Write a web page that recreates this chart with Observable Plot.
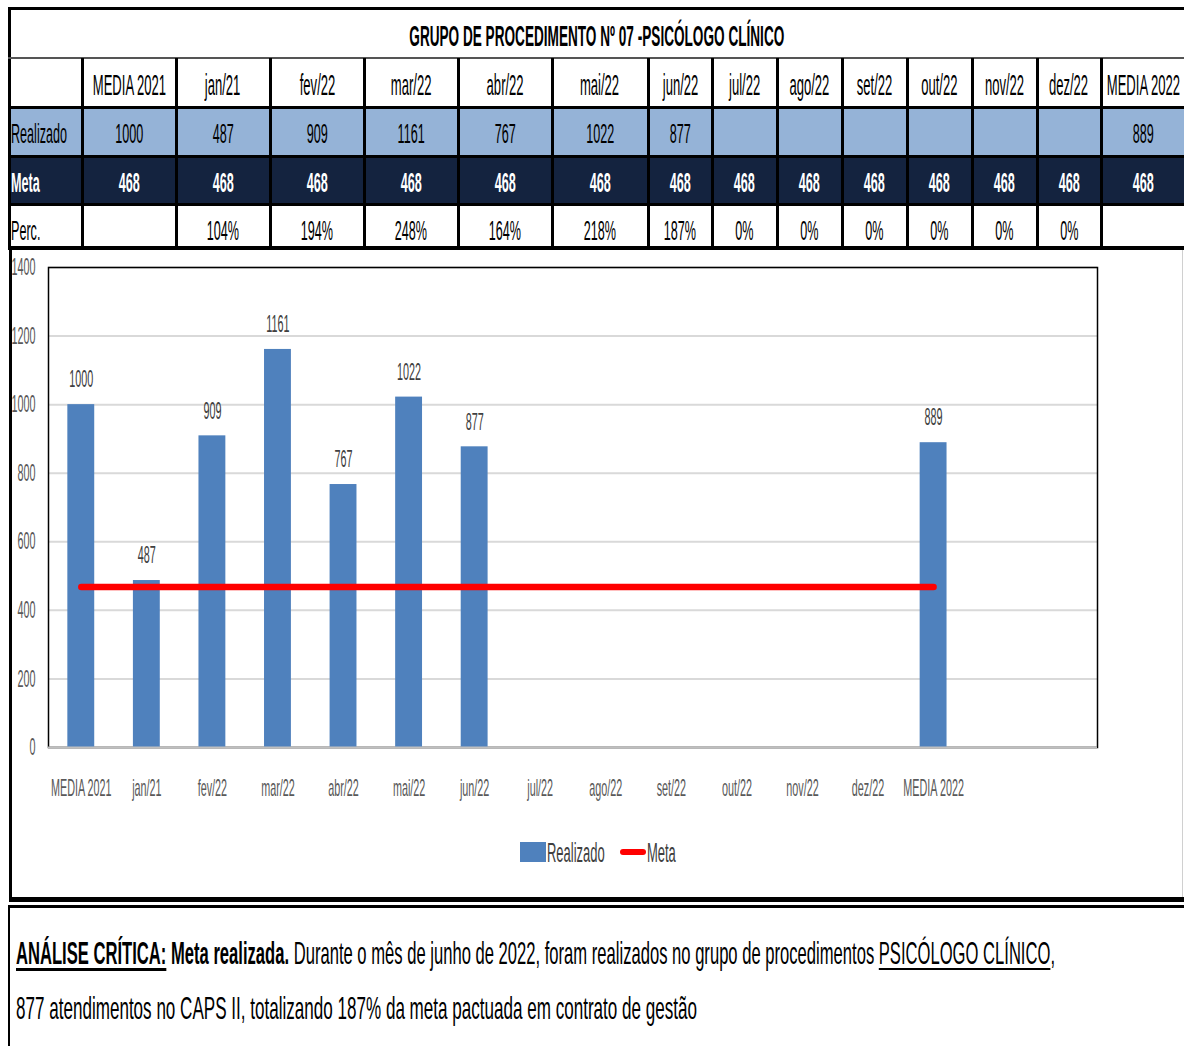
<!DOCTYPE html>
<html>
<head>
<meta charset="utf-8">
<script src="https://cdn.jsdelivr.net/npm/d3@7"></script>
<script src="https://cdn.jsdelivr.net/npm/@observablehq/plot@0.6"></script>
<style>
  html, body { margin:0; padding:0; background:#fff; }
  body { width:1184px; height:1046px; overflow:hidden; position:relative; font-family:"Liberation Sans", Arial, sans-serif; }
  .cell { position:absolute; display:flex; align-items:center; justify-content:center; overflow:visible; box-sizing:border-box; padding-top:4px; }
  .cell.left { justify-content:flex-start; padding-left:3px; }
  .sq { display:inline-block; white-space:nowrap; flex-shrink:0; transform-origin:center; }
  .line { position:absolute; background:#000; }
  #chart { position:absolute; left:0; top:250px; }
</style>
</head>
<body>
<div id="root"></div>
<script>
// ---------- data ----------
const title = "GRUPO DE PROCEDIMENTO Nº 07 -PSICÓLOGO CLÍNICO";
const categories = ["MEDIA 2021","jan/21","fev/22","mar/22","abr/22","mai/22","jun/22","jul/22","ago/22","set/22","out/22","nov/22","dez/22","MEDIA 2022"];
const realizado = [1000, 487, 909, 1161, 767, 1022, 877, null, null, null, null, null, null, 889];
const meta = [468, 468, 468, 468, 468, 468, 468, 468, 468, 468, 468, 468, 468, 468];
const perc = ["", "104%", "194%", "248%", "164%", "218%", "187%", "0%", "0%", "0%", "0%", "0%", "0%", ""];
const rowLabels = ["Realizado", "Meta", "Perc."];
const yTicks = [0, 200, 400, 600, 800, 1000, 1200, 1400];
const legendLabels = ["Realizado", "Meta"];
const blankSlots = ["", " "];

// ---------- layout (style only) ----------
const SX_TABLE = 0.45, SX_CHART = 0.45;
const colEdges = [8, 82, 176, 270, 364, 458, 552, 648, 712, 777, 842, 907, 972, 1037, 1101, 1186];
const rowEdges = [8, 58, 107, 156, 204, 248];
const root = document.getElementById("root");

function addCell(x0, x1, y0, y1, text, opts = {}) {
  const d = document.createElement("div");
  d.className = "cell" + (opts.left ? " left" : "");
  Object.assign(d.style, {
    left: x0 + "px", top: y0 + "px", width: (x1 - x0) + "px", height: (y1 - y0) + "px",
    background: opts.bg || "transparent", color: opts.color || "#000",
    fontSize: (opts.size || 28) + "px", fontWeight: opts.bold ? "bold" : "normal",
    paddingTop: (opts.pt != null ? opts.pt : 4) + "px"
  });
  const s = document.createElement("span");
  s.className = "sq";
  s.textContent = text;
  if (opts.fitW) s.dataset.fitw = opts.fitW;
  else s.dataset.sx = opts.sx || SX_TABLE;
  if (opts.left) s.style.transformOrigin = "left center";
  d.appendChild(s);
  root.appendChild(d);
}
function addLine(x, y, w, h, color) {
  const d = document.createElement("div");
  d.className = "line";
  Object.assign(d.style, { left: x + "px", top: y + "px", width: w + "px", height: h + "px", background: color || "#000" });
  root.appendChild(d);
}

// title row
addCell(8, 1186, rowEdges[0], rowEdges[1], title, { bold: true, size: 29, fitW: 375, pt: 6 });
// header row
categories.forEach((c, i) => addCell(colEdges[i + 1], colEdges[i + 2], rowEdges[1], rowEdges[2], c, { size: 29, pt: 6 }));
// Realizado row
addCell(colEdges[0], colEdges[1], rowEdges[2], rowEdges[3], rowLabels[0], { left: true, bg: "#95b3d7", pt: 5 });
categories.forEach((c, i) => addCell(colEdges[i + 1], colEdges[i + 2], rowEdges[2], rowEdges[3], realizado[i] == null ? "" : String(realizado[i]), { bg: "#95b3d7", pt: 5 }));
// Meta row
addCell(colEdges[0], colEdges[1], rowEdges[3], rowEdges[4], rowLabels[1], { left: true, bg: "#14233f", color: "#fff", bold: true, pt: 5 });
categories.forEach((c, i) => addCell(colEdges[i + 1], colEdges[i + 2], rowEdges[3], rowEdges[4], String(meta[i]), { bg: "#14233f", color: "#fff", bold: true, pt: 5 }));
// Perc row
addCell(colEdges[0], colEdges[1], rowEdges[4], rowEdges[5], rowLabels[2], { left: true, pt: 10 });
categories.forEach((c, i) => addCell(colEdges[i + 1], colEdges[i + 2], rowEdges[4], rowEdges[5], perc[i], { pt: 10 }));

// table lines
addLine(8, 7, 1184, 3);             // top
addLine(8, 7, 3, 242);              // left
addLine(8, 57, 1184, 2, "#555");    // under title
addLine(8, 106, 1184, 3);
addLine(8, 155, 1184, 3);
addLine(8, 203, 1184, 3);
addLine(8, 246, 1184, 4);           // bottom of table
colEdges.slice(1, 15).forEach(x => addLine(x - 1, 58, 3, 190));

// chart box borders
addLine(9, 248, 3, 652);
addLine(9, 897, 1184, 5);
addLine(1182, 250, 1, 647, "#d0d0d0");
// text box borders
addLine(8, 905, 1184, 3);
addLine(8, 905, 2, 141);

// ---------- chart ----------
const rows = categories.map((c, i) => ({ cat: c, realizado: realizado[i], meta: meta[i] }));
const bars = rows.filter(d => d.realizado != null);

const chart = Plot.plot({
  width: 1184, height: 648,
  marginLeft: 48, marginRight: 87, marginTop: 17, marginBottom: 151,
  style: { fontFamily: "Liberation Sans, Arial, sans-serif", fontSize: "24px", background: "transparent", overflow: "visible" },
  x: { domain: [...categories, ...blankSlots], paddingInner: 0.59, paddingOuter: 0.295, round: false },
  y: { domain: [0, 1400] },
  marks: [
    Plot.gridY(yTicks, { stroke: "#d9d9d9", strokeOpacity: 1, strokeWidth: 2 }),
    Plot.frame({ stroke: "#000", strokeWidth: 1.5 }),
    Plot.barY(bars, { x: "cat", y: "realizado", fill: "#4f81bd" }),
    Plot.ruleY([0], { stroke: "#bfbfbf", strokeWidth: 2 }),
    Plot.lineY(rows, { x: "cat", y: "meta", stroke: "#ff0000", strokeWidth: 6.5, strokeLinecap: "round" }),
    Plot.text(bars, { x: "cat", y: "realizado", text: d => String(d.realizado), dy: -25, fill: "#404040", fontSize: 24 }),
    Plot.axisY({ ticks: yTicks, tickFormat: "d", tickSize: 0, tickPadding: 13, fill: "#595959", fontSize: 24, label: null }),
    Plot.axisX({ tickSize: 0, tickPadding: 31, fill: "#595959", fontSize: 24, label: null })
  ]
});
chart.id = "chart";
document.body.appendChild(chart);

// legend (HTML, placed inside chart box)
(function legend() {
  const sqBox = document.createElement("div");
  Object.assign(sqBox.style, { position: "absolute", left: "520px", top: "842px", width: "26px", height: "20px", background: "#4f81bd" });
  document.body.appendChild(sqBox);
  const red = document.createElement("div");
  Object.assign(red.style, { position: "absolute", left: "620px", top: "849px", width: "26px", height: "6px", background: "#ff0000", borderRadius: "3px" });
  document.body.appendChild(red);
  [[547, legendLabels[0]], [647, legendLabels[1]]].forEach(([x, t]) => {
    const d = document.createElement("div");
    Object.assign(d.style, { position: "absolute", left: x + "px", top: "835px", height: "36px", lineHeight: "36px", fontSize: "27px", color: "#404040" });
    const s = document.createElement("span");
    s.className = "sq"; s.style.transformOrigin = "left center";
    s.dataset.sx = 0.48;
    s.textContent = t;
    d.appendChild(s);
    document.body.appendChild(d);
  });
})();

// analysis text
(function analysis() {
  const l1 = document.createElement("div");
  Object.assign(l1.style, { position: "absolute", left: "16px", top: "933px", lineHeight: "40px", fontSize: "32px", color: "#000" });
  l1.innerHTML = '<span class="sq" data-fitw="1039" style="transform-origin:left center"><b><u style="text-decoration-thickness:3px;text-underline-offset:4px">ANÁLISE CRÍTICA:</u> Meta realizada.</b> Durante o mês de junho de 2022, foram realizados no grupo de procedimentos <u style="text-decoration-thickness:2px;text-underline-offset:4px">PSICÓLOGO CLÍNICO</u>,</span>';
  document.body.appendChild(l1);
  const l2 = document.createElement("div");
  Object.assign(l2.style, { position: "absolute", left: "16px", top: "988px", lineHeight: "40px", fontSize: "32px", color: "#000" });
  l2.innerHTML = '<span class="sq" data-fitw="681" style="transform-origin:left center">877 atendimentos no CAPS II, totalizando 187% da meta pactuada em contrato de gestão</span>';
  document.body.appendChild(l2);
})();

// squeeze HTML text
document.querySelectorAll("span.sq").forEach(s => {
  let k;
  if (s.dataset.fitw) { const w = s.getBoundingClientRect().width; k = w > 0 ? (+s.dataset.fitw) / w : 0.45; }
  else k = +s.dataset.sx;
  s.style.transform = `scaleX(${k})`;
});
// squeeze SVG text
chart.querySelectorAll("text").forEach(t => {
  const L = t.getComputedTextLength();
  if (L > 0) { t.setAttribute("textLength", L * SX_CHART); t.setAttribute("lengthAdjust", "spacingAndGlyphs"); }
});
</script>
</body>
</html>
